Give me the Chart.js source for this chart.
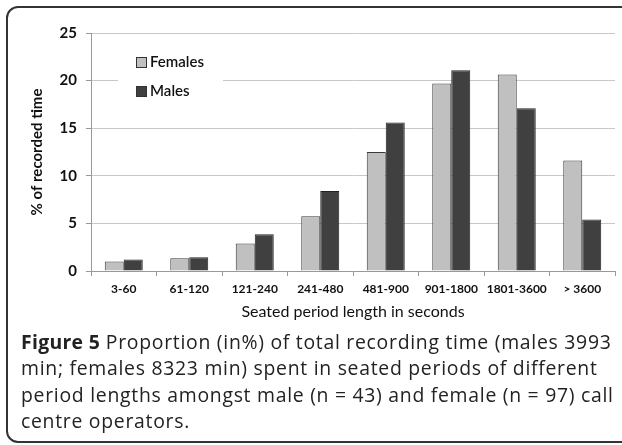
<!DOCTYPE html>
<html>
<head>
<meta charset="utf-8">
<script src="https://cdn.jsdelivr.net/npm/chart.js@4/dist/chart.umd.min.js"></script>
<style>
  html, body { margin: 0; padding: 0; background: #fff; }
  body { width: 622px; height: 445px; position: relative; overflow: hidden; }
  #frame {
    position: absolute; left: 6px; top: 6px; width: 640px; height: 437px;
    border: 2px solid #333; border-radius: 12px; box-sizing: border-box;
  }
  #wrap { position: absolute; left: 0; top: 0; width: 622px; height: 330px; }
  #caption {
    position: absolute; left: 21px; top: 329px; width: 610px;
    font-family: "Open Sans", sans-serif; font-size: 19.4px; line-height: 26.3px;
    font-weight: 500; letter-spacing: 0.72px;
    color: #222; white-space: nowrap;
  }
  #caption b { font-weight: 700; letter-spacing: 0.3px; }
</style>
</head>
<body>
<div id="frame"></div>
<div id="wrap"><canvas id="seatedChart"></canvas></div>
<div id="caption"><b>Figure 5</b> Proportion (in%) of total recording time (males 3993<br>min; females 8323 min) spent in seated periods of different<br>period lengths amongst male (n = 43) and female (n = 97) call<br>centre operators.</div>
<script>
const periodLabels = ["3-60", "61-120", "121-240", "241-480", "481-900", "901-1800", "1801-3600", "> 3600"];
const femalesValues = [1.0, 1.35, 2.9, 5.75, 12.5, 19.7, 20.65, 11.6];
const malesValues = [1.2, 1.45, 3.85, 8.4, 15.6, 21.1, 17.1, 5.4];
const yTicks = [0, 5, 10, 15, 20, 25];

document.addEventListener("DOMContentLoaded", () => {

    const chartFont = "Lato, 'Open Sans', sans-serif";

    // legend drawn inside the plot, on a white box over the grid
    const insideLegend = {
        id: "insideLegend",
        afterDraw(chart) {
            const ctx = chart.ctx;
            const area = chart.chartArea;
            const x0 = area.left + 27;
            const y0 = area.top + 10;
            ctx.save();
            ctx.fillStyle = "#fff";
            ctx.fillRect(x0, y0, 105, 70);
            chart.data.datasets.forEach((ds, i) => {
                const y = y0 + 19 + i * 29;
                ctx.fillStyle = ds.backgroundColor;
                ctx.fillRect(x0 + 18, y - 5, 10, 10);
                ctx.strokeStyle = "#333";
                ctx.lineWidth = 1;
                ctx.strokeRect(x0 + 18.5, y - 4.5, 10, 10);
                ctx.fillStyle = "#111";
                ctx.font = "600 15px " + chartFont;
                ctx.textBaseline = "middle";
                ctx.fillText(ds.label, x0 + 32, y);
            });
            ctx.restore();
        }
    };

    const canvas = document.getElementById("seatedChart");

    new Chart(canvas, {
        type: "bar",
        data: {
            labels: periodLabels,
            datasets: [{
                label: "Females",
                data: femalesValues,
                backgroundColor: "#c0c0c0",
                borderColor: "#3a3a3a",
                borderWidth: 1
            }, {
                label: "Males",
                data: malesValues,
                backgroundColor: "#404040",
                borderColor: "#222",
                borderWidth: 1
            }]
        },
        options: {
            responsive: true,
            maintainAspectRatio: false,
            animation: false,
            categoryPercentage: 0.58,
            barPercentage: 1.0,
            layout: { padding: { left: 24, right: 7, top: 33, bottom: 0 } },
            plugins: {
                legend: { display: false },
                tooltip: { enabled: false }
            },
            scales: {
                x: {
                    grid: {
                        display: true,
                        drawOnChartArea: false,
                        offset: true,
                        tickLength: 5,
                        color: "#999"
                    },
                    border: { color: "#999" },
                    ticks: {
                        color: "#111",
                        padding: 6,
                        maxRotation: 0,
                        minRotation: 0,
                        autoSkip: false,
                        font: { family: chartFont, size: 12, weight: "bold" }
                    },
                    title: {
                        display: true,
                        text: "Seated period length in seconds",
                        color: "#111",
                        padding: { top: 0, bottom: 9 },
                        font: { family: chartFont, size: 16 }
                    },
                    afterFit(scale) { scale.height = 59; }
                },
                y: {
                    min: 0,
                    max: 25,
                    afterBuildTicks(scale) {
                        scale.ticks = yTicks.map(v => ({ value: v }));
                    },
                    grid: {
                        color: "#c8c8c8",
                        tickLength: 5,
                        tickColor: "#999"
                    },
                    border: { color: "#999" },
                    ticks: {
                        color: "#111",
                        padding: 9,
                        font: { family: chartFont, size: 15, weight: "bold" }
                    },
                    title: {
                        display: true,
                        text: "% of recorded time",
                        color: "#111",
                        padding: { top: 4, bottom: 4 },
                        font: { family: chartFont, size: 15, weight: "bold" }
                    },
                    afterFit(scale) { scale.width = 67; }
                }
            }
        },
        plugins: [insideLegend]
    });
});
</script>
</body>
</html>
